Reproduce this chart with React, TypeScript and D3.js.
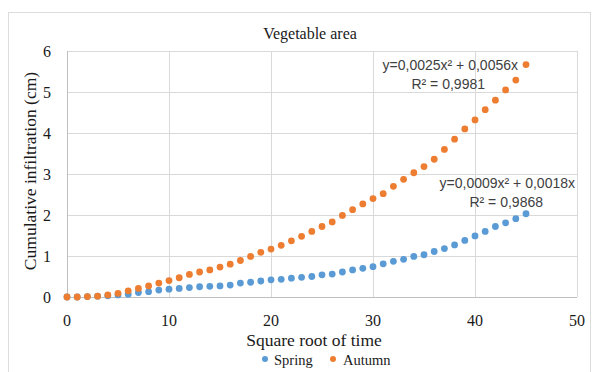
import React from "react";
import * as d3 from "d3";

// Square-root-of-time steps (0..45)
const steps: number[] = d3.range(0, 46);

// Cumulative infiltration (cm) per step
const spring: number[] = [
  0, 0, 0.01, 0.02, 0.03, 0.05, 0.07, 0.11, 0.13, 0.17, 0.19, 0.21, 0.23, 0.25, 0.26, 0.27,
  0.29, 0.34, 0.36, 0.39, 0.42, 0.43, 0.46, 0.48, 0.5, 0.54, 0.56, 0.61, 0.66, 0.7, 0.74,
  0.81, 0.87, 0.92, 0.99, 1.03, 1.11, 1.18, 1.27, 1.38, 1.49, 1.6, 1.72, 1.81, 1.91, 2.03,
];
const autumn: number[] = [
  0, 0, 0.01, 0.02, 0.05, 0.09, 0.15, 0.21, 0.27, 0.34, 0.4, 0.47, 0.55, 0.61, 0.66, 0.73,
  0.8, 0.89, 0.99, 1.09, 1.17, 1.26, 1.37, 1.48, 1.6, 1.72, 1.83, 1.99, 2.13, 2.27, 2.4,
  2.52, 2.7, 2.87, 3.03, 3.18, 3.36, 3.6, 3.85, 4.1, 4.32, 4.57, 4.8, 5.05, 5.29, 5.67,
];

const xTicks: number[] = [0, 10, 20, 30, 40, 50];
const yTicks: number[] = [0, 1, 2, 3, 4, 5, 6];

const seriesNames: string[] = ["Spring", "Autumn"];
const seriesColors: string[] = ["#5B9BD5", "#ED7D31"];

const trendLabels: { eq: string; r2: string }[] = [
  { eq: "y=0,0009x² + 0,0018x", r2: "R² = 0,9868" },
  { eq: "y=0,0025x² + 0,0056x", r2: "R² = 0,9981" },
];

const W = 603;
const H = 372;

export default function App() {
  const x = d3.scaleLinear().domain([0, 50]).range([67, 577]);
  const y = d3.scaleLinear().domain([0, 6]).range([297, 51]);
  const serif = "'Liberation Serif', 'Times New Roman', serif";
  const sans = "'Liberation Sans', Arial, sans-serif";
  const series = [spring, autumn];
  const ink = "#1a1a1a";

  return (
    <svg
      width={W}
      height={H}
      style={{ position: "absolute", left: 0, top: 0, background: "#fff" }}
    >
      <rect x={8.5} y={12.5} width={582} height={370} fill="#fff" stroke="#dcdcdc" />

      {/* gridlines */}
      {yTicks.map((t) => (
        <line
          key={"gy" + t}
          x1={x(0)}
          x2={x(50)}
          y1={Math.round(y(t)) + 0.5}
          y2={Math.round(y(t)) + 0.5}
          stroke={t === 0 ? "#bfbfbf" : "#d9d9d9"}
        />
      ))}
      {xTicks.map((t) => (
        <line
          key={"gx" + t}
          x1={Math.round(x(t)) + 0.5}
          x2={Math.round(x(t)) + 0.5}
          y1={y(6)}
          y2={y(0)}
          stroke={t === 0 ? "#bfbfbf" : "#d9d9d9"}
        />
      ))}

      {/* tick labels */}
      {yTicks.map((t) => (
        <text
          key={"ly" + t}
          x={51}
          y={y(t) + 6}
          textAnchor="end"
          fontFamily={serif}
          fontSize={16}
          fill={ink}
        >
          {t}
        </text>
      ))}
      {xTicks.map((t) => (
        <text
          key={"lx" + t}
          x={x(t)}
          y={326}
          textAnchor="middle"
          fontFamily={serif}
          fontSize={16}
          fill={ink}
        >
          {t}
        </text>
      ))}

      {/* title and axis titles */}
      <text x={310} y={39} textAnchor="middle" fontFamily={serif} fontSize={16} fill={ink}>
        Vegetable area
      </text>
      <text x={314} y={346} textAnchor="middle" fontFamily={serif} fontSize={17.5} fill={ink}>
        Square root of time
      </text>
      <text
        transform={`translate(36, 171) rotate(-90)`}
        textAnchor="middle"
        fontFamily={serif}
        fontSize={17.5}
        fill={ink}
      >
        Cumulative infiltration (cm)
      </text>

      {/* points */}
      {series.map((vals, si) => (
        <g key={"s" + si}>
          {steps.map((s, i) => (
            <circle key={i} cx={x(s)} cy={y(vals[i])} r={3.4} fill={seriesColors[si]} />
          ))}
        </g>
      ))}

      {/* trendline equations */}
      <text x={575} y={188} textAnchor="end" fontFamily={sans} fontSize={14} fill="#404040">
        {trendLabels[0].eq}
      </text>
      <text x={543} y={207} textAnchor="end" fontFamily={sans} fontSize={14} fill="#404040">
        {trendLabels[0].r2}
      </text>
      <text x={518} y={70} textAnchor="end" fontFamily={sans} fontSize={14} fill="#404040">
        {trendLabels[1].eq}
      </text>
      <text x={485} y={89} textAnchor="end" fontFamily={sans} fontSize={14} fill="#404040">
        {trendLabels[1].r2}
      </text>

      {/* legend */}
      <g>
        <circle cx={265} cy={359} r={3} fill={seriesColors[0]} />
        <text x={274} y={365} fontFamily={serif} fontSize={14.5} fill={ink}>
          {seriesNames[0]}
        </text>
        <circle cx={333} cy={359} r={3} fill={seriesColors[1]} />
        <text x={343} y={365} fontFamily={serif} fontSize={14.5} fill={ink}>
          {seriesNames[1]}
        </text>
      </g>
    </svg>
  );
}
